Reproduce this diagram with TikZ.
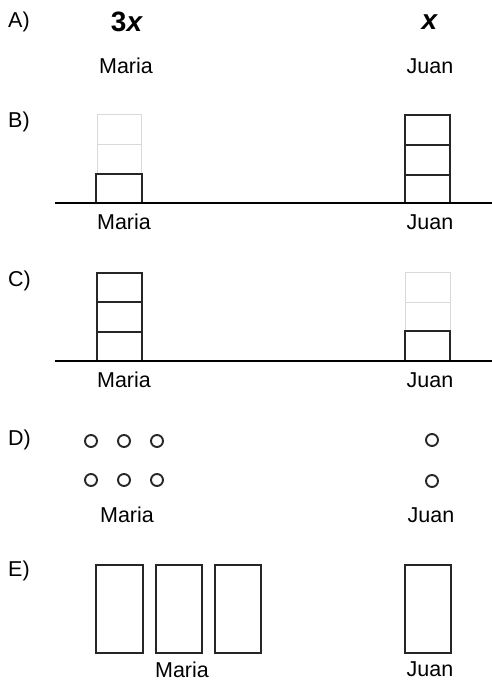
\documentclass[tikz,border=0pt]{standalone}
\usepackage{fontspec}
\setmainfont{Liberation Sans}
\begin{document}
\begin{tikzpicture}[x=1pt,y=-1pt,
  txt/.style={inner sep=0pt,font=\fontsize{21.5}{25}\selectfont},
  big/.style={inner sep=0pt,font=\fontsize{28}{32}\selectfont\bfseries},
  tag/.style={txt,anchor=west},
  ground/.style={line width=2.6pt},
  unitbox/.style={draw=black!85,line width=2.2pt},
  ghostbox/.style={draw=black!15,line width=1pt},
  token/.style={circle,draw=black!85,line width=1.9pt,minimum size=12pt,inner sep=0pt},
  bar/.style={draw=black!85,line width=2.2pt}]
\useasboundingbox (0,0) rectangle (492,681);

% A) symbolic amounts
\node[tag] (lA) at (8,22) {A)};
\node[big] (mA) at (127,22) {3\textit{x}};
\node[big] (jA) at (430,22) {\textit{x}};
\node[txt] (mAn) at (126,66) {Maria};
\node[txt] (jAn) at (430,66) {Juan};

% B) Maria has one block, Juan a stack of three
\node[tag] (lB) at (8,122) {B)};
\draw[ghostbox] (97,114) rectangle (141,174);
\draw[ghostbox] (97,144) -- (141,144);
\draw[unitbox] (96,203) rectangle (142,174);
\draw[unitbox] (405,203) rectangle (450,115);
\draw[unitbox] (405,145) -- (450,145);
\draw[unitbox] (405,175) -- (450,175);
\coordinate (gB1) at (55,203);
\coordinate (gB2) at (492,203);
\draw[ground] (gB1) -- (gB2);
\node[txt] (mBn) at (124,222) {Maria};
\node[txt] (jBn) at (430,222) {Juan};

% C) Maria has the stack of three, Juan one block
\node[tag] (lC) at (8,281) {C)};
\draw[unitbox] (97,361) rectangle (142,273);
\draw[unitbox] (97,302) -- (142,302);
\draw[unitbox] (97,332) -- (142,332);
\draw[ghostbox] (405,272) rectangle (450,331);
\draw[ghostbox] (405,302) -- (450,302);
\draw[unitbox] (405,361) rectangle (450,331);
\coordinate (gC1) at (55,361);
\coordinate (gC2) at (492,361);
\draw[ground] (gC1) -- (gC2);
\node[txt] (mCn) at (124,380) {Maria};
\node[txt] (jCn) at (430,380) {Juan};

% D) counters
\node[tag] (lD) at (8,440) {D)};
\foreach \cx/\k in {91/1,124/2,157/3}{
  \node[token] (mt\k a) at (\cx,441) {};
  \node[token] (mt\k b) at (\cx,480) {};
}
\node[token] (jt1) at (432,440) {};
\node[token] (jt2) at (432,481) {};
\node[txt] (mDn) at (127,515) {Maria};
\node[txt] (jDn) at (431,515) {Juan};

% E) bars
\node[tag] (lE) at (8,571) {E)};
\draw[bar] (96,565) rectangle (143,653);
\draw[bar] (156,565) rectangle (202,653);
\draw[bar] (215,565) rectangle (261,653);
\draw[bar] (405,565) rectangle (451,653);
\node[txt] (mEn) at (182,670) {Maria};
\node[txt] (jEn) at (430,669) {Juan};
\end{tikzpicture}
\end{document}
